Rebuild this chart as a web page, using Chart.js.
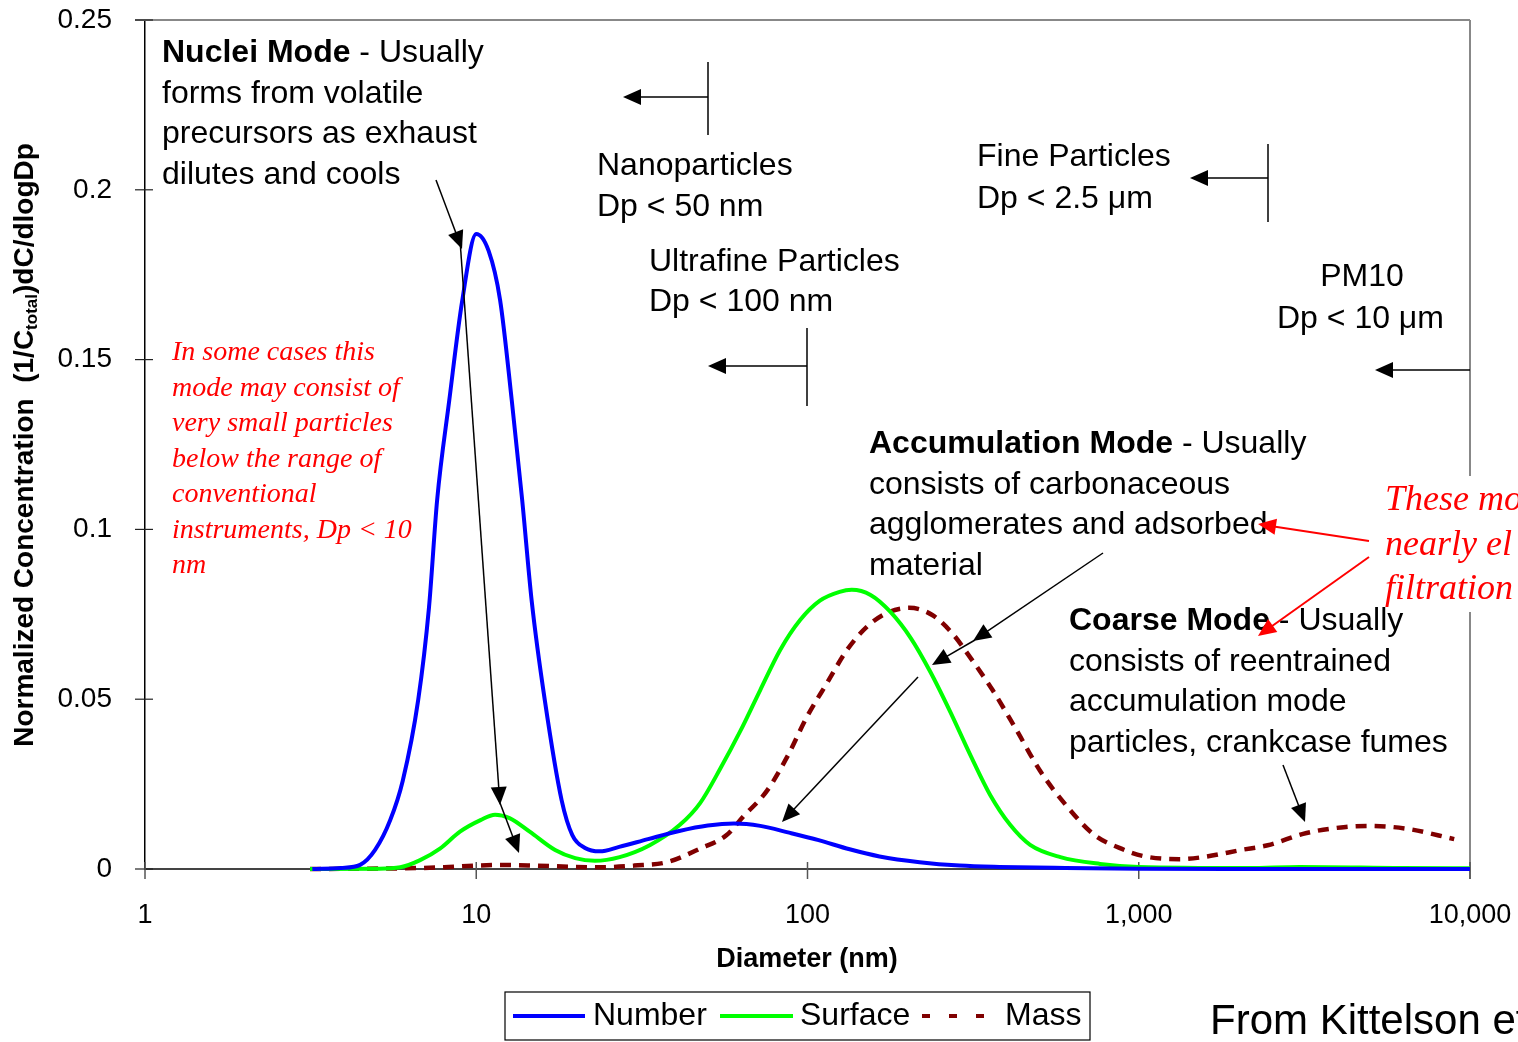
<!DOCTYPE html>
<html>
<head>
<meta charset="utf-8">
<script src="https://cdn.jsdelivr.net/npm/chart.js@4.4.1/dist/chart.umd.min.js"></script>
<style>
  body { margin: 0; background: #fff; }
  canvas { display: block; }
</style>
</head>
<body>
<canvas id="psd" width="1518" height="1042"></canvas>
<script>
// particle diameter (nm) and normalized concentration
const numberDiam = [3.2, 3.9, 4.46, 4.95, 5.5, 6.0, 6.68, 7.2, 7.62, 8.29, 9.06, 10.0, 10.9, 11.8, 12.8, 13.76, 14.7, 16.1, 18.1, 19.5, 21.3, 23.6, 27, 33, 41, 50, 60, 72, 88, 108, 134, 165, 218, 288, 380, 600, 1000, 2000, 5000, 10000];
const numberVals = [0, 0.0003, 0.0012, 0.0056, 0.0144, 0.026, 0.0498, 0.077, 0.1087, 0.138, 0.167, 0.187, 0.182, 0.1676, 0.138, 0.1087, 0.079, 0.0498, 0.0203, 0.010, 0.0062, 0.0052, 0.0065, 0.0088, 0.0112, 0.0128, 0.0134, 0.0127, 0.0107, 0.0085, 0.0058, 0.0037, 0.0020, 0.0010, 0.0006, 0.0003, 0.0001, 0, 0, 0];

const surfaceDiam = [3.15, 5.0, 5.9, 6.77, 7.77, 8.93, 10.3, 11.4, 12.6, 14.5, 17.3, 19.9, 22.8, 27.1, 33.4, 41.2, 47.4, 54.5, 62.6, 72, 82.7, 95, 109, 125, 136, 155, 178, 205, 235, 270, 310, 356, 409, 470, 580, 764, 1000, 2150, 3060, 6220, 10000];
const surfaceVals = [0, 0.0001, 0.0005, 0.0026, 0.006, 0.011, 0.0144, 0.016, 0.015, 0.011, 0.0056, 0.0032, 0.0024, 0.0035, 0.007, 0.013, 0.0194, 0.0295, 0.0405, 0.0527, 0.0645, 0.0733, 0.079, 0.0816, 0.0822, 0.0807, 0.0757, 0.068, 0.058, 0.0462, 0.0336, 0.0218, 0.013, 0.0071, 0.0035, 0.0015, 0.0006, 0.0003, 0.0006, 0.0003, 0.0002];

const massDiam = [3.15, 6, 8, 10, 12, 15, 20, 23.6, 30, 37.6, 47.4, 57, 63.8, 75.4, 86.8, 99.6, 114.6, 131.6, 151, 173.6, 203, 238, 273, 314, 362, 427, 503, 615, 735, 874, 1032, 1326, 1562, 2036, 2450, 3210, 4220, 4940, 6500, 8960];
const massVals = [0, 0.0002, 0.0005, 0.001, 0.0012, 0.001, 0.0006, 0.0005, 0.001, 0.002, 0.006, 0.010, 0.0153, 0.023, 0.033, 0.0448, 0.0548, 0.0645, 0.0713, 0.0754, 0.0769, 0.0748, 0.0695, 0.0615, 0.0527, 0.041, 0.029, 0.0178, 0.010, 0.0062, 0.0038, 0.0029, 0.0035, 0.0056, 0.007, 0.0106, 0.0124, 0.0127, 0.0118, 0.0088];

const seriesNames = ['Number', 'Surface', 'Mass'];
const seriesColors = ['#0000ff', '#00ff00', '#800000'];

const xTicks = [1, 10, 100, 1000, 10000];
const xTickLabels = ['1', '10', '100', '1,000', '10,000'];
const yTicks = [0, 0.05, 0.1, 0.15, 0.2, 0.25];
const yTickLabels = ['0', '0.05', '0.1', '0.15', '0.2', '0.25'];

const SANS = '"Liberation Sans", Arial, sans-serif';
const SERIF = '"Liberation Serif", "Times New Roman", serif';

const pts = (d, v) => d.map((x, i) => ({ x: x, y: v[i] }));

function arrow(ctx, x1, y1, x2, y2, color, lw) {
  const a = Math.atan2(y2 - y1, x2 - x1);
  const L = 18, W = 8;
  ctx.strokeStyle = color;
  ctx.fillStyle = color;
  ctx.lineWidth = lw || 1.5;
  ctx.beginPath();
  ctx.moveTo(x1, y1);
  ctx.lineTo(x2 - Math.cos(a) * L * 0.7, y2 - Math.sin(a) * L * 0.7);
  ctx.stroke();
  ctx.beginPath();
  ctx.moveTo(x2, y2);
  ctx.lineTo(x2 - L * Math.cos(a) + W * Math.sin(a), y2 - L * Math.sin(a) - W * Math.cos(a));
  ctx.lineTo(x2 - L * Math.cos(a) - W * Math.sin(a), y2 - L * Math.sin(a) + W * Math.cos(a));
  ctx.closePath();
  ctx.fill();
}

function line(ctx, x1, y1, x2, y2, color, lw) {
  ctx.strokeStyle = color;
  ctx.lineWidth = lw || 1.5;
  ctx.beginPath();
  ctx.moveTo(x1, y1);
  ctx.lineTo(x2, y2);
  ctx.stroke();
}

// bold lead + regular rest on one line
function mixed(ctx, bold, rest, x, y, size) {
  ctx.font = 'bold ' + size + 'px ' + SANS;
  ctx.fillText(bold, x, y);
  const w = ctx.measureText(bold).width;
  ctx.font = size + 'px ' + SANS;
  ctx.fillText(rest, x + w, y);
}

function lines(ctx, arr, x, y0, step, font, color) {
  ctx.font = font;
  ctx.fillStyle = color;
  arr.forEach((t, i) => ctx.fillText(t, x, y0 + i * step));
}

const framePlugin = {
  id: 'frame',
  beforeDatasetsDraw(chart) {
    const ctx = chart.ctx, a = chart.chartArea;
    const xs = chart.scales.x, ys = chart.scales.y;
    ctx.save();
    // top and right frame in gray
    line(ctx, 135, a.top, a.right, a.top, '#888', 2);
    line(ctx, a.right, a.top, a.right, a.bottom + 10, '#888', 2);
    // tick marks crossing the axes
    yTicks.forEach(v => {
      const y = ys.getPixelForValue(v);
      line(ctx, 135, y, 153, y, '#222', 1.2);
    });
    xTicks.forEach(v => {
      const x = xs.getPixelForValue(v);
      line(ctx, x, a.bottom - 7, x, a.bottom + 10, '#555', 1.5);
    });
    ctx.restore();
  },
  afterDraw(chart) {
    const ctx = chart.ctx;
    ctx.save();
    ctx.textBaseline = 'middle';
    ctx.textAlign = 'left';
    ctx.fillStyle = '#000';

    // axis titles
    ctx.font = 'bold 27px ' + SANS;
    ctx.textAlign = 'center';
    ctx.fillText('Diameter (nm)', 807, 960);
    ctx.textAlign = 'left';

    ctx.save();
    ctx.translate(25, 445);
    ctx.rotate(-Math.PI / 2);
    const p1 = 'Normalized Concentration  (1/C', sub = 'total', p2 = ')dC/dlogDp';
    ctx.font = 'bold 28px ' + SANS;
    const w1 = ctx.measureText(p1).width, w3 = ctx.measureText(p2).width;
    ctx.font = 'bold 17px ' + SANS;
    const w2 = ctx.measureText(sub).width;
    let x0 = -(w1 + w2 + w3) / 2;
    ctx.font = 'bold 28px ' + SANS;
    ctx.fillText(p1, x0, 0);
    ctx.font = 'bold 17px ' + SANS;
    ctx.fillText(sub, x0 + w1, 7);
    ctx.font = 'bold 28px ' + SANS;
    ctx.fillText(p2, x0 + w1 + w2, 0);
    ctx.restore();

    // nuclei mode text
    mixed(ctx, 'Nuclei Mode', ' - Usually', 162, 53, 32);
    lines(ctx, ['forms from volatile', 'precursors as exhaust', 'dilutes and cools'], 162, 94, 40.5, '32px ' + SANS, '#000');

    // size classes
    const f32 = '32px ' + SANS;
    lines(ctx, ['Nanoparticles', 'Dp < 50 nm'], 597, 166, 41.5, f32, '#000');
    lines(ctx, ['Ultrafine Particles', 'Dp < 100 nm'], 649, 262, 40.5, f32, '#000');
    lines(ctx, ['Fine Particles', 'Dp < 2.5 \u03bcm'], 977, 157, 42, f32, '#000');
    ctx.textAlign = 'center';
    lines(ctx, ['PM10'], 1362, 277, 42, f32, '#000');
    ctx.textAlign = 'left';
    lines(ctx, ['Dp < 10 \u03bcm'], 1277, 319, 42, f32, '#000');

    line(ctx, 708, 62, 708, 135, '#000', 1.5);
    arrow(ctx, 708, 97, 623, 97, '#000');
    line(ctx, 807, 328, 807, 406, '#000', 1.5);
    arrow(ctx, 807, 366, 708, 366, '#000');
    line(ctx, 1268, 144, 1268, 222, '#000', 1.5);
    arrow(ctx, 1268, 178, 1190, 178, '#000');
    arrow(ctx, 1470, 370, 1375, 370, '#000');

    // red note
    lines(ctx, ['In some cases this', 'mode may consist of', 'very small particles', 'below the range of',
      'conventional', 'instruments, Dp < 10', 'nm'], 172, 353, 35.5, 'italic 28px ' + SERIF, '#ff0000');

    // accumulation / coarse
    ctx.fillStyle = '#000';
    mixed(ctx, 'Accumulation Mode', ' - Usually', 869, 444, 32);
    lines(ctx, ['consists of carbonaceous', 'agglomerates and adsorbed', 'material'], 869, 485, 40.5, '32px ' + SANS, '#000');

    ctx.fillStyle = '#fff';
    ctx.fillRect(1372, 476, 146, 136);
    lines(ctx, ['These mo', 'nearly el', 'filtration'], 1385, 501, 44.5, 'italic 36px ' + SERIF, '#ff0000');

    ctx.fillStyle = '#000';
    mixed(ctx, 'Coarse Mode', ' - Usually', 1069, 621, 32);
    lines(ctx, ['consists of reentrained', 'accumulation mode', 'particles, crankcase fumes'], 1069, 662, 40.5, '32px ' + SANS, '#000');

    // pointer arrows
    arrow(ctx, 436, 180, 462, 249, '#000');
    arrow(ctx, 460, 240, 500, 805, '#000');
    arrow(ctx, 497, 795, 519, 853, '#000');
    arrow(ctx, 1103, 553, 973, 641, '#000');
    arrow(ctx, 975, 640, 932, 665, '#000');
    arrow(ctx, 918, 677, 782, 822, '#000');
    arrow(ctx, 1283, 765, 1305, 822, '#000');
    arrow(ctx, 1369, 541, 1258, 524, '#ff0000', 2);
    arrow(ctx, 1369, 557, 1258, 636, '#ff0000', 2);

    // legend box
    ctx.strokeStyle = '#000';
    ctx.lineWidth = 1.2;
    ctx.strokeRect(505, 992, 585, 48);
    const ly = 1016;
    const sx = [[513, 585, 593], [720, 793, 800], [922, 992, 1005]];
    seriesNames.forEach((n, i) => {
      ctx.strokeStyle = seriesColors[i];
      ctx.lineWidth = 4;
      ctx.setLineDash(i === 2 ? [8, 19] : []);
      ctx.beginPath();
      ctx.moveTo(sx[i][0], ly);
      ctx.lineTo(sx[i][1], ly);
      ctx.stroke();
      ctx.setLineDash([]);
      ctx.fillStyle = '#000';
      ctx.font = '32px ' + SANS;
      ctx.fillText(n, sx[i][2], ly);
    });

    ctx.font = '42px ' + SANS;
    ctx.fillText('From Kittelson et al.', 1210, 1022);
    ctx.restore();
  }
};

new Chart(document.getElementById('psd').getContext('2d'), {
  type: 'line',
  data: {
    datasets: [
      { label: seriesNames[0], data: pts(numberDiam, numberVals), borderColor: seriesColors[0], borderWidth: 4 },
      { label: seriesNames[1], data: pts(surfaceDiam, surfaceVals), borderColor: seriesColors[1], borderWidth: 4 },
      { label: seriesNames[2], data: pts(massDiam, massVals), borderColor: seriesColors[2], borderWidth: 4.5, borderDash: [11, 8] }
    ]
  },
  options: {
    responsive: false,
    animation: false,
    layout: { autoPadding: false, padding: { left: 0, top: 20, right: 48, bottom: 0 } },
    elements: {
      point: { radius: 0 },
      line: { cubicInterpolationMode: 'monotone', fill: false }
    },
    datasets: { line: { clip: 6 } },
    plugins: {
      legend: { display: false },
      tooltip: { enabled: false }
    },
    scales: {
      x: {
        type: 'logarithmic',
        min: 1,
        max: 10000,
        afterFit: s => { s.height = 173; s.paddingLeft = 0; s.paddingRight = 0; },
        afterBuildTicks: s => { s.ticks = xTicks.map(v => ({ value: v })); },
        grid: { display: false, drawTicks: false },
        border: { color: '#444', width: 2 },
        ticks: {
          autoSkip: false,
          maxRotation: 0,
          padding: 30,
          color: '#000',
          font: { family: SANS, size: 27 },
          callback: (v, i) => xTickLabels[i]
        }
      },
      y: {
        min: 0,
        max: 0.25,
        afterFit: s => { s.width = 145; s.paddingTop = 0; s.paddingBottom = 0; },
        afterBuildTicks: s => { s.ticks = yTicks.map(v => ({ value: v })); },
        grid: { display: false, drawTicks: false },
        border: { color: '#000', width: 1.5 },
        ticks: {
          padding: 33,
          color: '#000',
          font: { family: SANS, size: 28 },
          callback: (v, i) => yTickLabels[i]
        }
      }
    }
  },
  plugins: [framePlugin]
});
</script>
</body>
</html>
